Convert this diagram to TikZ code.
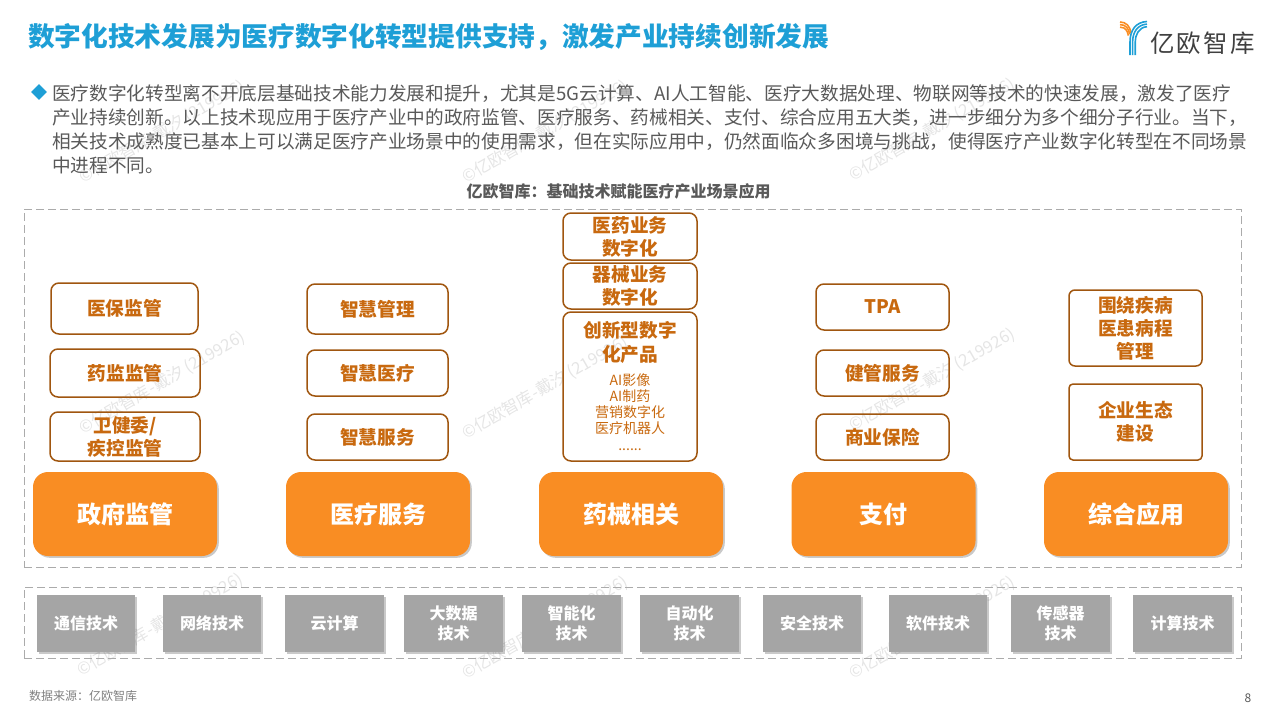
\documentclass[tikz,border=0pt]{standalone}
\usepackage{fontspec}
\setmainfont{Noto Sans CJK SC}
\newfontfamily\logofont[LetterSpace=9]{Noto Sans CJK SC}
\usepackage{tikz}
\usetikzlibrary{positioning,shapes.geometric,shadows}
\definecolor{titleblue}{HTML}{1E9FD6}
\definecolor{bodygray}{HTML}{595959}
\definecolor{mainorange}{HTML}{F98D23}
\definecolor{subline}{HTML}{A0560F}
\definecolor{subtext}{HTML}{C8690F}
\definecolor{techgray}{HTML}{A5A5A5}
\definecolor{dashgray}{HTML}{ABABAB}
\tikzset{
  subbox/.style={draw=subline, line width=1.5pt, rounded corners=8pt, align=center, inner sep=0pt,
    text=subtext, font=\fontsize{18.67}{23}\selectfont\bfseries},
  subnote/.style={align=center, inner sep=0pt, text=subtext},
  mainbox/.style={fill=mainorange, rounded corners=15pt, minimum width=184pt, minimum height=84pt, inner sep=0pt,
    text=white, font=\fontsize{24}{28}\selectfont\bfseries,
    drop shadow={shadow xshift=1.8pt, shadow yshift=-1.8pt, opacity=.3, fill=black!70}},
  techbox/.style={fill=techgray, minimum height=57pt, inner sep=0pt, align=center,
    text=white, font=\fontsize{16}{20}\selectfont\bfseries,
    drop shadow={shadow xshift=1.8pt, shadow yshift=-1.8pt, opacity=.3, fill=black!70}},
  dashframe/.style={draw=dashgray, line width=.9pt, dash pattern=on 8pt off 4pt},
  wmark/.style={text=black!10, rotate=30, font=\fontsize{16.5}{18}\selectfont}
}
\begin{document}
\begin{tikzpicture}[x=1pt,y=-1pt]
  \useasboundingbox (0,0) rectangle (1280,720);
  % watermark
  \foreach \i/\wx/\wy in {1/162/132,2/545/132,3/932/130,4/162/383,5/545/388,6/932/380,7/160/625,8/545/628,9/932/628}
    \draw (\wx,\wy)node[wmark](wm\i){©亿欧智库-戴汐 (219926)};
  % header
  \draw (28,37.5)node[anchor=west, inner sep=0pt, text=titleblue, font=\fontsize{26.7}{30}\selectfont\bfseries](title){数字化技术发展为医疗数字化转型提供支持，激发产业持续创新发展};
  \foreach \k in {0,2.6,5.2}
    \draw[mainorange, line width=1.6pt] (1120,22+\k) .. controls (1126,22+\k) and (1130-\k/2,26+\k) .. (1131-\k/2,33+\k/2);
  \foreach \k in {0,2.6,5.2}
    \draw[titleblue, line width=1.6pt] (1130+\k,55) -- (1130+\k,42) .. controls (1130+\k,30+\k) and (1136+\k/2,22+\k) .. (1147,21.5+\k);
  \draw (1150,43)node[anchor=west, inner sep=0pt, text=black!75, font=\fontsize{24.5}{28}\logofont](logotext){亿欧智库};
  \draw (39,92)node[diamond, fill=titleblue, minimum width=16pt, minimum height=16pt, inner sep=0pt](bullet){};
  \draw (52,129)node[anchor=west, inner sep=0pt, align=left, text=bodygray, font=\fontsize{18.67}{24}\selectfont](intro){医疗数字化转型离不开底层基础技术能力发展和提升，尤其是5G云计算、AI人工智能、医疗大数据处理、物联网等技术的快速发展，激发了医疗\\产业持续创新。以上技术现应用于医疗产业中的政府监管、医疗服务、药械相关、支付、综合应用五大类，进一步细分为多个细分子行业。当下，\\相关技术成熟度已基本上可以满足医疗产业场景中的使用需求，但在实际应用中，仍然面临众多困境与挑战，使得医疗产业数字化转型在不同场景\\中进程不同。};
  \draw (618.5,191)node[text=bodygray, font=\fontsize{16}{20}\selectfont\bfseries](caption){亿欧智库：基础技术赋能医疗产业场景应用};
  % frames
  \draw (632.5,388)node[dashframe, minimum width=1217pt, minimum height=358pt, inner sep=0pt](topframe){};
  \draw (632.5,622.5)node[dashframe, minimum width=1217pt, minimum height=71pt, inner sep=0pt](techframe){};
  % main categories
  \draw (125,514)node[mainbox](gov){政府监管};
  \draw (378,514)node[mainbox](med){医疗服务};
  \draw (631,514)node[mainbox](drug){药械相关};
  \draw (883.5,514)node[mainbox](pay){支付};
  \draw (1136,514)node[mainbox](app){综合应用};
  % column 1
  \draw (124.5,308.5)node[subbox, minimum width=147pt, minimum height=51pt](gov1){医保监管};
  \draw (125,373)node[subbox, minimum width=150pt, minimum height=48pt](gov2){药监监管};
  \draw (125,436.5)node[subbox, minimum width=150pt, minimum height=49pt](gov3){卫健委/\\疾控监管};
  % column 2
  \draw (377.5,309)node[subbox, minimum width=141pt, minimum height=50pt](med1){智慧管理};
  \draw (377.5,373)node[subbox, minimum width=141pt, minimum height=46pt](med2){智慧医疗};
  \draw (377.5,437)node[subbox, minimum width=141pt, minimum height=46pt](med3){智慧服务};
  % column 3
  \draw (630,236.5)node[subbox, minimum width=134pt, minimum height=47pt](drug1){医药业务\\数字化};
  \draw (630,286)node[subbox, minimum width=134pt, minimum height=46pt](drug2){器械业务\\数字化};
  \draw (630,386.5)node[subbox, minimum width=134pt, minimum height=149pt](drug3){};
  \draw (630,342)node[subnote, font=\fontsize{18.67}{24}\selectfont\bfseries](drug3head){创新型数字\\化产品};
  \draw (630,412)node[subnote, font=\fontsize{14}{16.2}\selectfont](drug3list){AI影像\\AI制药\\营销数字化\\医疗机器人\\......};
  % column 4
  \draw (882.5,307)node[subbox, minimum width=133pt, minimum height=46pt](pay1){TPA};
  \draw (882.5,373)node[subbox, minimum width=133pt, minimum height=46pt](pay2){健管服务};
  \draw (882.5,437)node[subbox, minimum width=133pt, minimum height=46pt](pay3){商业保险};
  % column 5
  \draw (1135.5,328)node[subbox, rounded corners=6pt, minimum width=133pt, minimum height=76pt](app1){围绕疾病\\医患病程\\管理};
  \draw (1135.5,422)node[subbox, rounded corners=4pt, minimum width=133pt, minimum height=76pt](app2){企业生态\\建设};
  % base technologies
  \foreach \i/\tx/\tw/\tname in {1/86/98/通信技术,2/212/98/网络技术,3/334.5/99/云计算,4/453.5/99/大数据\\技术,5/571.5/99/智能化\\技术,6/689.5/99/自动化\\技术,7/812/98/安全技术,8/938/98/软件技术,9/1060.5/99/传感器\\技术,10/1182.5/99/计算技术}
    \draw (\tx,623.5)node[techbox, minimum width=\tw pt](tech\i){\tname};
  % footer
  \draw (29,696)node[anchor=west, inner sep=0pt, text=black!50, font=\fontsize{12}{15}\selectfont](source){数据来源：亿欧智库};
  \draw (1248,698)node[text=bodygray, font=\fontsize{12}{14}\selectfont](pageno){8};
\end{tikzpicture}
\end{document}
